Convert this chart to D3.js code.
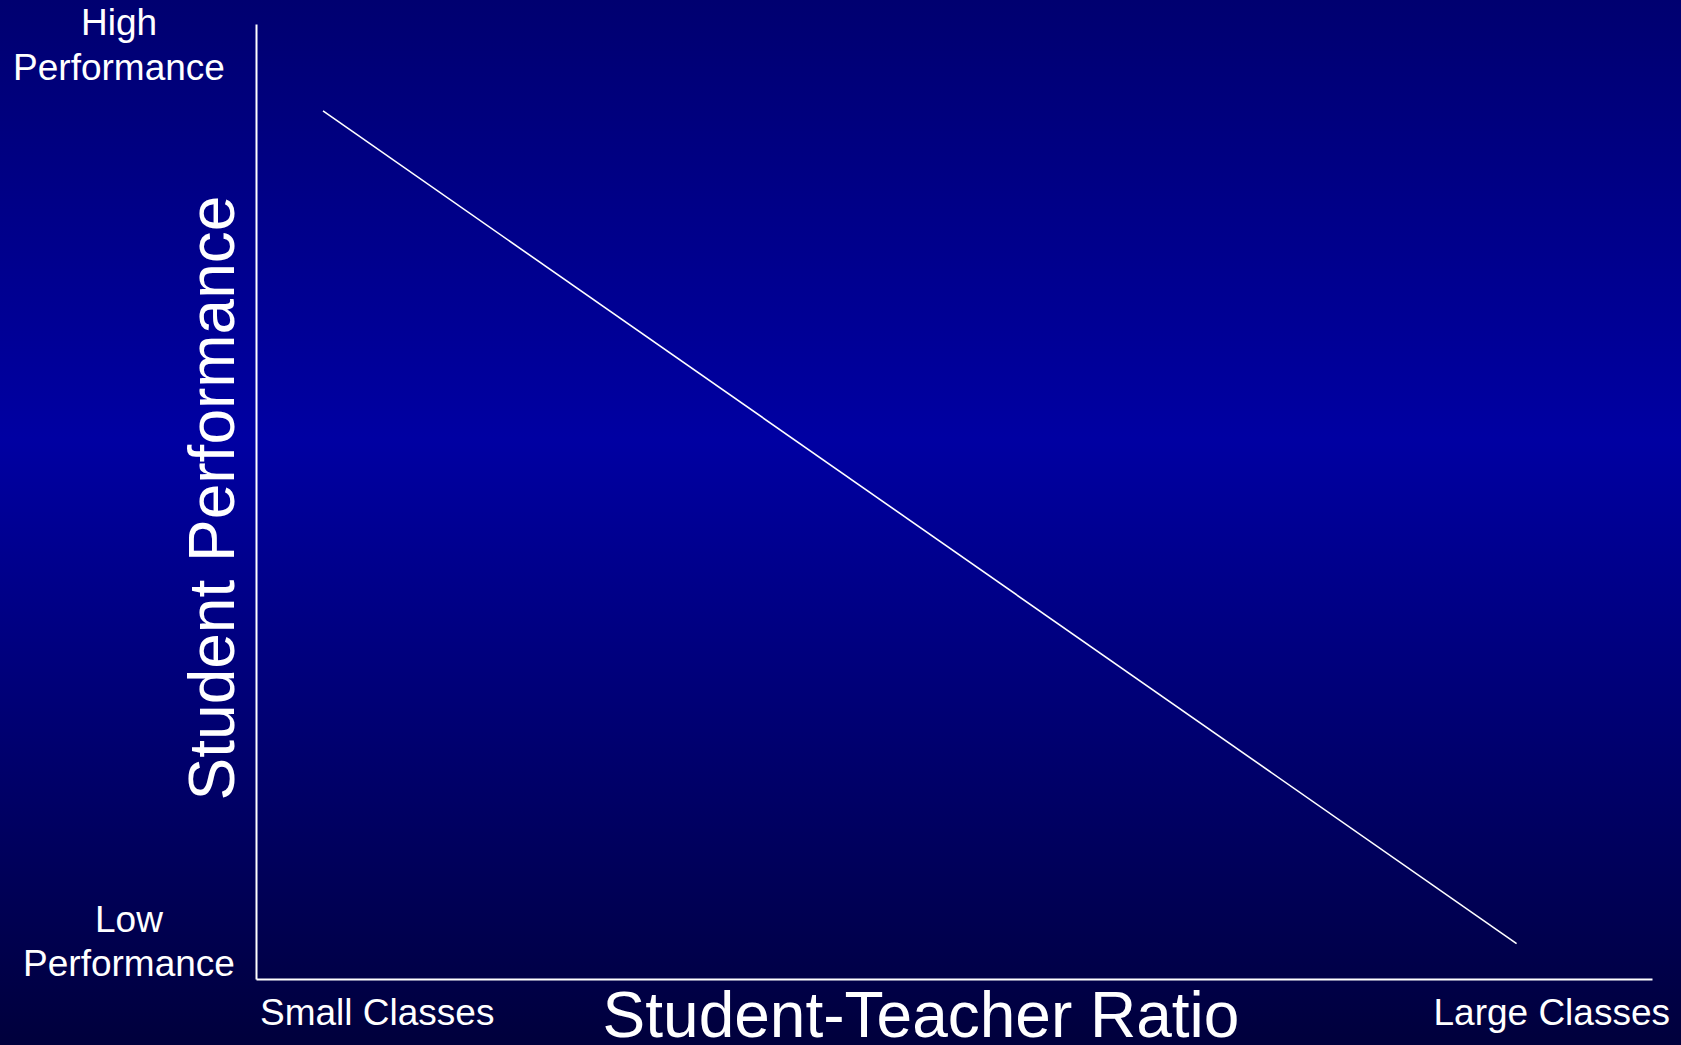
<!DOCTYPE html>
<html>
<head>
<meta charset="utf-8">
<script src="https://cdn.jsdelivr.net/npm/d3@7"></script>
<style>
  html, body { margin: 0; padding: 0; overflow: hidden; }
  svg { display: block; }
</style>
</head>
<body>
<svg id="chart"></svg>
<script>
// data (conceptual 0-10 scales)
const ratio = [0.48, 9.03];
const performance = [9.09, 0.37];
const yTickLabels = [['High', 'Performance'], ['Low', 'Performance']];
const xTickLabels = ['Small Classes', 'Large Classes'];
const xTitle = 'Student-Teacher Ratio';
const yTitle = 'Student Performance';

const width = 1681, height = 1045;
const font = 'Liberation Sans, Arial, sans-serif';

const svg = d3.select('#chart').attr('width', width).attr('height', height);

// background gradient
const grad = svg.append('defs').append('linearGradient')
  .attr('id', 'bg').attr('x1', 0).attr('y1', 0).attr('x2', 0).attr('y2', 1);
grad.append('stop').attr('offset', '0%').attr('stop-color', '#000070');
grad.append('stop').attr('offset', '42%').attr('stop-color', '#0000a2');
grad.append('stop').attr('offset', '100%').attr('stop-color', '#00003c');
svg.append('rect').attr('width', width).attr('height', height).attr('fill', 'url(#bg)');

const x = d3.scaleLinear().domain([0, 10]).range([256, 1652]);
const y = d3.scaleLinear().domain([0, 10]).range([979, 24]);

// axes as plain lines (no ticks)
svg.append('g').attr('transform', `translate(${x(0)},0)`)
  .call(d3.axisLeft(y).tickValues([]).tickSizeOuter(0))
  .call(g => g.select('.domain').attr('stroke', '#fff').attr('stroke-width', 2));
svg.append('g').attr('transform', `translate(0,${y(0)})`)
  .call(d3.axisBottom(x).tickValues([]).tickSizeOuter(0))
  .call(g => g.select('.domain').attr('stroke', '#fff').attr('stroke-width', 2));

// the trend line
const pts = ratio.map((r, i) => [r, performance[i]]);
svg.append('path')
  .datum(pts)
  .attr('fill', 'none')
  .attr('stroke', '#fff')
  .attr('stroke-width', 1.6)
  .attr('d', d3.line().x(d => x(d[0])).y(d => y(d[1])));

// y end labels
const yLab = [{ lines: yTickLabels[0], cx: 119, base: [35, 80] },
              { lines: yTickLabels[1], cx: 129, base: [932, 976] }];
yLab.forEach(l => {
  l.lines.forEach((t, i) => {
    svg.append('text').text(t)
      .attr('x', l.cx).attr('y', l.base[i])
      .attr('text-anchor', 'middle')
      .attr('font-family', font).attr('font-size', 37).attr('fill', '#fff');
  });
});

// x end labels
svg.append('text').text(xTickLabels[0])
  .attr('x', 260).attr('y', 1025)
  .attr('font-family', font).attr('font-size', 37).attr('fill', '#fff');
svg.append('text').text(xTickLabels[1])
  .attr('x', 1670).attr('y', 1025).attr('text-anchor', 'end')
  .attr('font-family', font).attr('font-size', 37).attr('fill', '#fff');

// titles
svg.append('text').text(xTitle)
  .attr('x', 921).attr('y', 1037).attr('text-anchor', 'middle')
  .attr('font-family', font).attr('font-size', 64).attr('fill', '#fff');
svg.append('text').text(yTitle)
  .attr('transform', 'translate(234,498) rotate(-90)')
  .attr('text-anchor', 'middle')
  .attr('font-family', font).attr('font-size', 64).attr('fill', '#fff');
</script>
</body>
</html>
